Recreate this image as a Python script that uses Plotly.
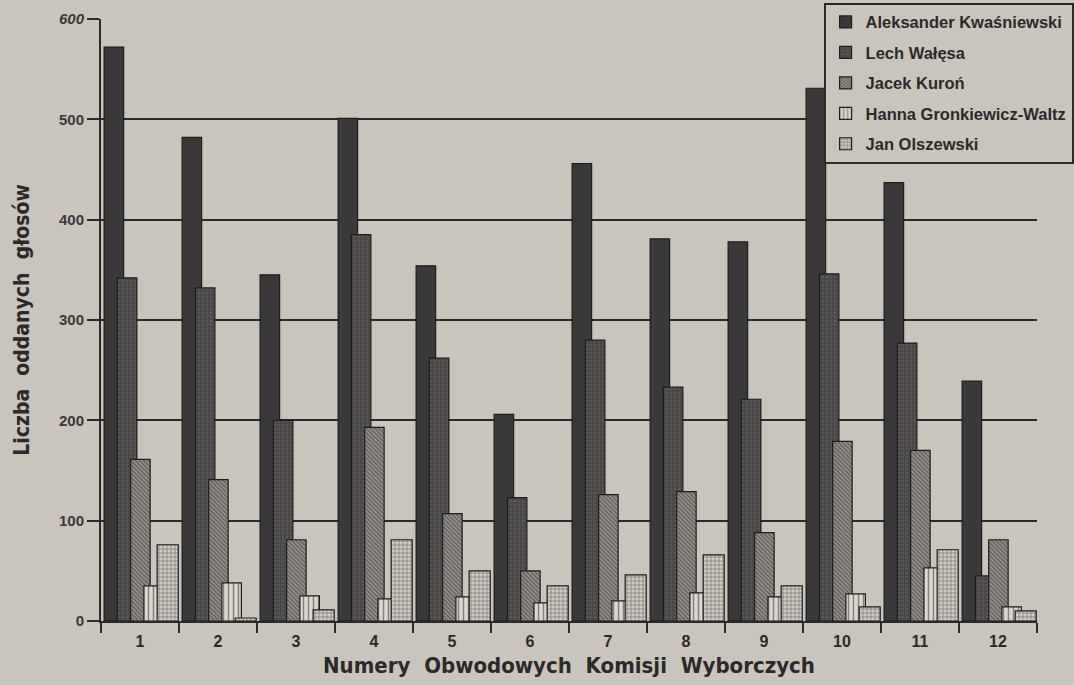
import plotly.graph_objects as go

categories = ["1", "2", "3", "4", "5", "6", "7", "8", "9", "10", "11", "12"]
kwasniewski = [572, 482, 345, 501, 354, 206, 456, 381, 378, 531, 437, 239]
walesa = [342, 332, 200, 385, 262, 123, 280, 233, 221, 346, 277, 45]
kuron = [161, 141, 81, 193, 107, 50, 126, 129, 88, 179, 170, 81]
gronkiewicz = [35, 38, 25, 22, 24, 18, 20, 28, 24, 27, 53, 14]
olszewski = [76, 3, 11, 81, 50, 35, 46, 66, 35, 14, 71, 10]

names = ["Aleksander Kwaśniewski", "Lech Wałęsa", "Jacek Kuroń",
         "Hanna Gronkiewicz-Waltz", "Jan Olszewski"]
series = [kwasniewski, walesa, kuron, gronkiewicz, olszewski]

BG = "#c9c5bc"
INK = "#2b2929"

styles = [
    dict(color="#3a3838", pattern=dict(shape="")),
    dict(color="#4a4747", pattern=dict(shape=".", fgcolor="#6a6664", size=4, solidity=0.3)),
    dict(color="#6f6b67", pattern=dict(shape="\\", fgcolor="#2a2828", bgcolor="#99958f", size=3, solidity=0.5)),
    dict(color="#d6d2ca", pattern=dict(shape="|", fgcolor="#2e2c2c", bgcolor="#dcd8d0", size=5, solidity=0.3)),
    dict(color="#c2beb7", pattern=dict(shape="+", fgcolor="#2e2c2c", bgcolor="#d0ccc4", size=4, solidity=0.35)),
]
offsets = [-0.46, -0.29, -0.12, 0.05, 0.22]
widths = [0.25, 0.25, 0.25, 0.25, 0.27]

fig = go.Figure()
for i, (nm, vals) in enumerate(zip(names, series)):
    st = styles[i]
    fig.add_trace(go.Bar(
        x=categories, y=vals, name=nm,
        offset=offsets[i], width=widths[i],
        legendgroup=f"g{i}",
        marker=dict(color=st["color"], pattern=st["pattern"],
                    line=dict(color="#1e1c1c", width=1.2)),
    ))

fig.update_layout(
    width=1074, height=685,
    barmode="overlay",
    paper_bgcolor=BG, plot_bgcolor=BG,
    margin=dict(l=101, r=37, t=19, b=64, autoexpand=False),
    font=dict(family="Liberation Sans, Arial, sans-serif", color=INK),
    showlegend=True,
    legend=dict(
        x=0.772, y=1.027, xanchor="left", yanchor="top",
        bgcolor=BG, bordercolor=INK, borderwidth=2,
        font=dict(size=16.5, weight="bold", color=INK),
        tracegroupgap=6, itemwidth=30,
    ),
    xaxis=dict(
        type="category", tickson="boundaries",
        range=[-0.5, 11.5],
        showline=True, linecolor=INK, linewidth=2,
        ticks="outside", ticklen=10, tickwidth=2, tickcolor=INK,
        ticklabelstandoff=5,
        showgrid=False,
        tickfont=dict(size=16, weight="bold", color=INK),
        title=dict(text="Numery  Obwodowych  Komisji  Wyborczych",
                   font=dict(family="DejaVu Sans Condensed, sans-serif", size=22, weight="bold", color=INK),
                   standoff=8),
    ),
    yaxis=dict(
        range=[0, 600], tickvals=[0, 100, 200, 300, 400, 500, 600],
        ticktext=["0", "100", "200", "300", "400", "500", "<i>600</i>"],
        showline=True, linecolor=INK, linewidth=2,
        ticks="outside", ticklen=12, tickwidth=2, tickcolor=INK,
        showgrid=True, gridcolor=INK, gridwidth=2,
        zeroline=False,
        tickfont=dict(size=15, weight="bold", color="#3a3838"),
        title=dict(text="Liczba  oddanych  głosów",
                   font=dict(family="DejaVu Sans Condensed, sans-serif", size=21, weight="bold", color=INK),
                   standoff=24),
    ),
)

fig.write_html(
    "out.html",
    config={"displayModeBar": False},
    post_script="document.body.style.margin='0';document.body.style.overflow='hidden';",
)
